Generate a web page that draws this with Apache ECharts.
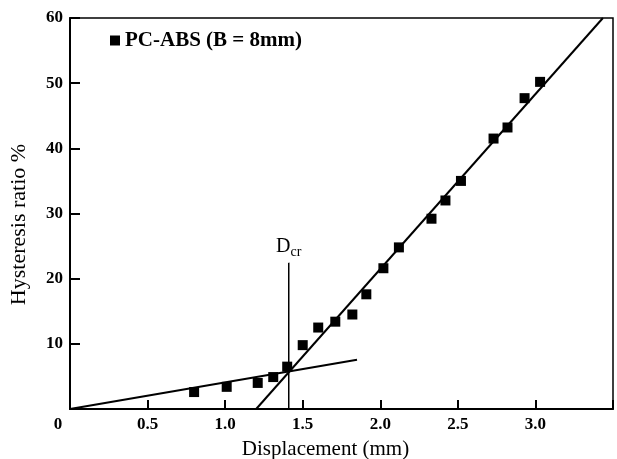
<!DOCTYPE html>
<html>
<head>
<meta charset="utf-8">
<script src="https://cdn.jsdelivr.net/npm/echarts@6/dist/echarts.min.js"></script>
<style>html,body{margin:0;padding:0;background:#fff}#c{width:617px;height:459px}</style>
</head>
<body>
<div id="c"></div>
<script>
// ---- data ----
var seriesName = 'PC-ABS (B = 8mm)';
var dispX = [0.80, 1.01, 1.21, 1.31, 1.40, 1.50, 1.60, 1.71, 1.82, 1.91, 2.02, 2.12, 2.33, 2.42, 2.52, 2.73, 2.82, 2.93, 3.03];
var ratioY = [2.6, 3.4, 4.0, 4.9, 6.5, 9.8, 12.5, 13.4, 14.5, 17.6, 21.6, 24.8, 29.2, 32.0, 35.0, 41.5, 43.2, 47.7, 50.2];
var lowFitX = [0, 1.85];
var lowFitY = [0, 7.55];
var highFitX = [1.2, 3.435];
var highFitY = [0, 60];
var dcrX = [1.41, 1.41];
var dcrY = [0, 22.5];
var xTicks = [0, 0.5, 1.0, 1.5, 2.0, 2.5, 3.0];
var yTicks = [10, 20, 30, 40, 50, 60];
var xName = 'Displacement (mm)';
var yName = 'Hysteresis ratio %';

function pairs(xs, ys) { return xs.map(function (x, i) { return [x, ys[i]]; }); }

var serif = '"Liberation Serif", "DejaVu Serif", serif';
var chart = echarts.init(document.getElementById('c'), null, {renderer: 'canvas'});

chart.setOption({
  animation: false,
  backgroundColor: '#fff',
  grid: {left: 70, right: 4, top: 18, bottom: 50, show: true, borderColor: '#000', borderWidth: 1.5,
         backgroundColor: 'transparent', outerBoundsMode: 'none', containLabel: false},
  legend: {
    data: [seriesName], left: 105, top: 25, icon: 'rect', itemWidth: 10, itemHeight: 10, itemGap: 6,
    textStyle: {fontFamily: serif, fontSize: 21, fontWeight: 'bold', color: '#000'}
  },
  xAxis: {
    type: 'value', min: 0, max: 3.5, interval: 0.5,
    name: xName, nameLocation: 'middle', nameGap: 30,
    nameTextStyle: {fontFamily: serif, fontSize: 21, color: '#000', padding: [0, 32, 0, 0]},
    axisLine: {show: true, onZero: false, lineStyle: {color: '#000', width: 2}},
    axisTick: {show: true, inside: true, length: 9, lineStyle: {color: '#000', width: 2}},
    splitLine: {show: false},
    axisLabel: {
      margin: 7, color: '#000', fontFamily: serif, fontSize: 17, fontWeight: 'bold',
      formatter: function (v) {
        if (Math.abs(v) < 1e-9) return '{z|0}';
        if (xTicks.some(function (t) { return Math.abs(t - v) < 1e-9; })) return v.toFixed(1);
        return '';
      },
      rich: {z: {fontFamily: serif, fontSize: 17, fontWeight: 'bold', color: '#000', padding: [0, 24, 0, 0]}}
    }
  },
  yAxis: {
    type: 'value', min: 0, max: 60, interval: 10,
    name: yName, nameLocation: 'middle', nameGap: 40, nameRotate: 90,
    nameTextStyle: {fontFamily: serif, fontSize: 22, color: '#000', padding: [0, 0, 0, -22]},
    axisLine: {show: true, onZero: false, lineStyle: {color: '#000', width: 2}},
    axisTick: {show: true, inside: true, length: 10, lineStyle: {color: '#000', width: 2}},
    splitLine: {show: false},
    axisLabel: {
      margin: 7, color: '#000', fontFamily: serif, fontSize: 17, fontWeight: 'bold',
      formatter: function (v) {
        return yTicks.indexOf(v) >= 0 ? String(v) : '';
      }
    }
  },
  series: [
    {type: 'line', data: pairs(lowFitX, lowFitY), showSymbol: false, symbol: 'none', silent: true,
     lineStyle: {color: '#000', width: 2}, z: 2},
    {type: 'line', data: pairs(highFitX, highFitY), showSymbol: false, symbol: 'none', silent: true,
     lineStyle: {color: '#000', width: 2}, z: 2},
    {type: 'line', data: pairs(dcrX, dcrY), symbol: 'none', silent: true,
     lineStyle: {color: '#000', width: 1.5}, z: 2},
    {type: 'scatter', data: [[dcrX[1], dcrY[1]]], symbolSize: 1, silent: true,
     itemStyle: {color: '#fff', opacity: 1},
     label: {show: true, position: 'top', distance: 3, color: '#000', opacity: 1, formatter: '{d|D}{s|cr}',
       rich: {d: {fontFamily: serif, fontSize: 20, color: '#000'},
              s: {fontFamily: serif, fontSize: 14, color: '#000', padding: [10, 0, 0, 0]}}}},
    {name: seriesName, type: 'scatter', data: pairs(dispX, ratioY), symbol: 'rect', symbolSize: 10,
     itemStyle: {color: '#000', opacity: 1}, z: 3}
  ]
});
</script>
</body>
</html>
